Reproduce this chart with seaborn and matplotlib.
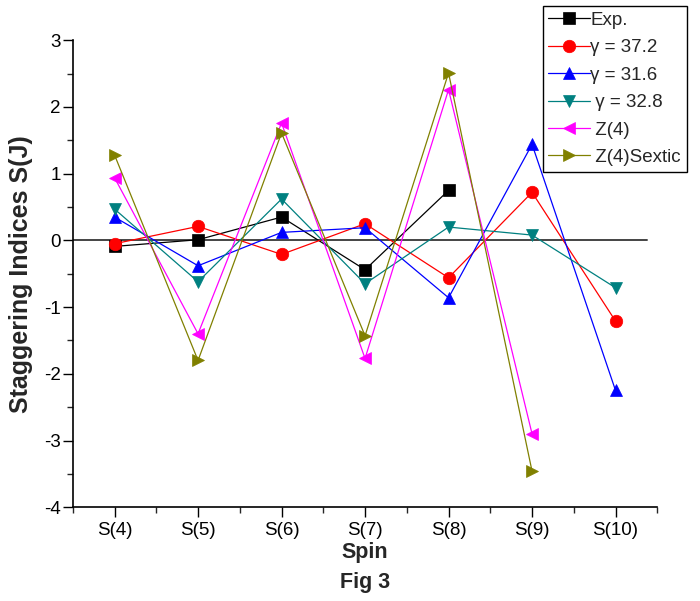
import numpy as np
import pandas as pd
import matplotlib
matplotlib.use('Agg')
import matplotlib.pyplot as plt
import seaborn as sns
from matplotlib.ticker import MultipleLocator

# data
spins = ['S(4)', 'S(5)', 'S(6)', 'S(7)', 'S(8)', 'S(9)', 'S(10)']
exp_vals = [-0.09, 0.01, 0.35, -0.44, 0.75, np.nan, np.nan]
g372_vals = [-0.05, 0.21, -0.21, 0.25, -0.56, 0.72, -1.21]
g316_vals = [0.35, -0.38, 0.12, 0.19, -0.86, 1.44, -2.25]
g328_vals = [0.47, -0.62, 0.62, -0.65, 0.20, 0.08, -0.71]
z4_vals = [0.94, -1.40, 1.76, -1.77, 2.26, -2.90, np.nan]
z4sextic_vals = [1.28, -1.80, 1.61, -1.43, 2.51, -3.46, np.nan]

series_names = ['Exp.', 'γ = 37.2', 'γ = 31.6', ' γ = 32.8', ' Z(4)', ' Z(4)Sextic']
series_vals = [exp_vals, g372_vals, g316_vals, g328_vals, z4_vals, z4sextic_vals]
colors = ['black', 'red', 'blue', '#008080', '#FF00FF', '#808000']
markers = ['s', 'o', '^', 'v', '<', '>']

sns.set_style('ticks')
plt.rcParams['font.family'] = ['Liberation Sans', 'DejaVu Sans']
plt.rcParams['axes.unicode_minus'] = False

fig = plt.figure(figsize=(7, 6.01), dpi=100)
ax = fig.add_axes([0.104, 0.156, 0.835, 0.777])

x = np.arange(1, len(spins) + 1)
for name, vals, c, m in zip(series_names, series_vals, colors, markers):
    df = pd.DataFrame({'x': x, 'y': vals}).dropna()
    sns.lineplot(data=df, x='x', y='y', ax=ax, color=c, marker=m, markersize=9,
                 markeredgecolor=c, markeredgewidth=0.5, linewidth=0.9, label=name)

# zero reference line
ax.axhline(0, xmin=0, xmax=0.983, color='#444444', linewidth=1.4, zorder=1)

ax.set_xlim(0.5, 7.5)
ax.set_ylim(-4, 3)
ax.set_xticks(x)
ax.set_xticklabels(spins)
ax.xaxis.set_minor_locator(MultipleLocator(0.5))
ax.yaxis.set_major_locator(MultipleLocator(1))
ax.yaxis.set_minor_locator(MultipleLocator(0.5))
ax.tick_params(which='major', direction='out', length=7, width=1, labelsize=13.5, colors='black')
ax.tick_params(axis='y', which='major', pad=1.5)
ax.tick_params(which='minor', direction='out', length=4, width=1)

sns.despine(ax=ax)
for s in ['left', 'bottom']:
    ax.spines[s].set_color('black')
    ax.spines[s].set_linewidth(1.2)

ax.set_xlabel('Spin', fontsize=15.5, fontweight='bold', labelpad=2)
ax.set_ylabel('Staggering Indices S(J)', fontsize=18, fontweight='bold', labelpad=8)
fig.text(0.521, 0.031, 'Fig 3', fontsize=15.5, fontweight='bold', ha='center', va='center')

leg = ax.legend(loc='upper right', bbox_to_anchor=(0.981, 0.99), bbox_transform=fig.transFigure,
                fontsize=13.5, frameon=True, fancybox=False, framealpha=1, edgecolor='black',
                handlelength=2.2, handletextpad=0.05, labelspacing=0.55, borderpad=0.3,
                borderaxespad=0)
leg.get_frame().set_linewidth(1.0)

fig.savefig('out.png', dpi=100)
